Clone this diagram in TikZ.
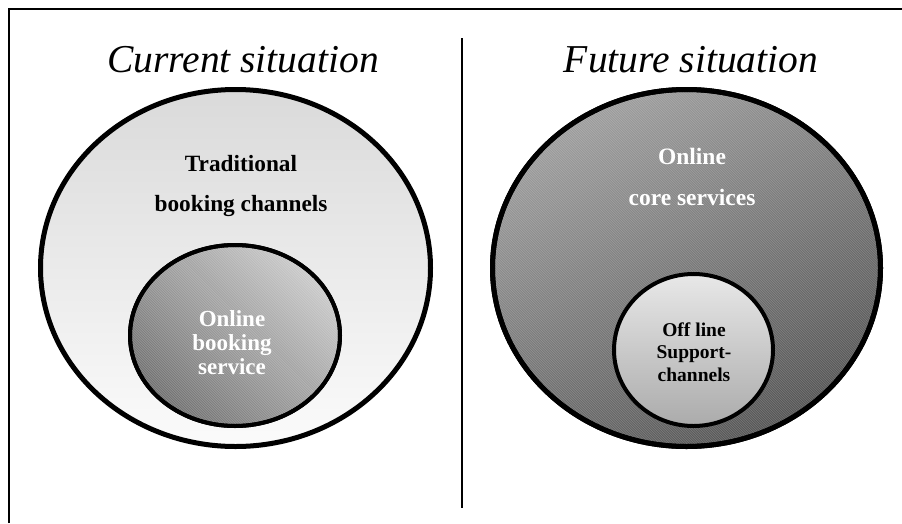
\documentclass[tikz,border=0pt]{standalone}
\usepackage{fontspec}
\setmainfont{Liberation Serif}
\usetikzlibrary{shapes.geometric}

\definecolor{palegray}{HTML}{DADADA}
\definecolor{nearwhite}{HTML}{FBFBFB}
\definecolor{midgray}{HTML}{CACACA}
\definecolor{deepgray}{HTML}{6C6C6C}
\definecolor{coregray}{HTML}{9C9C9C}
\definecolor{coredark}{HTML}{525252}
\definecolor{supplight}{HTML}{E8E8E8}
\definecolor{suppdark}{HTML}{ABABAB}

\begin{document}
\begin{tikzpicture}[
        x=1pt, y=-1pt,
        ring/.style={draw, ellipse, inner sep=0pt},
        stripe/.style={white, opacity=0.22, line width=0.7pt},
        heading/.style={font=\fontsize{39.5}{42}\selectfont\itshape, inner sep=0pt, anchor=base},
        caption/.style={font=\fontsize{#1}{#1}\selectfont\bfseries, align=center, inner sep=0pt}
      ]

      \useasboundingbox (0,0) rectangle (902,523);

      % frame and divider
      \draw[line width=2pt] (9,523) -- (9,9) -- (902,9);
      \coordinate (divtop) at (462,38);
      \coordinate (divbot) at (462,508);
      \draw[line width=1.3pt] (divtop) -- (divbot);

      % current situation
      \node[heading] (curhead) at (243,72) {Current situation};
      \node[ring, line width=5pt, minimum width=390pt, minimum height=357pt,
            top color=palegray, bottom color=nearwhite] (cur) at (235.5,268) {};
      \node[ring, line width=4pt, minimum width=210pt, minimum height=181pt,
            top color=midgray, bottom color=deepgray, shading angle=-45] (curin) at (235,335.5) {};
      \begin{scope}
        \clip (curin.center) ellipse (103 and 88.5);
        \foreach \d in {-200,-197.5,...,200}
          \draw[stripe] ([shift={(\d-100,-100)}]curin.center) -- ++(200,200);
      \end{scope}
      \draw[line width=4pt] (curin.center) ellipse (105 and 90.5);
      \node[caption=23.3, text=black] (trad) at (241,186)
          {Traditional\\[16pt] booking channels};
      \node[caption=23, text=white] (onbook) at (232,343) {Online\\[1pt] booking\\[1pt] service};

      % future situation
      \node[heading] (futhead) at (691,72) {Future situation};
      \node[ring, line width=5pt, minimum width=388pt, minimum height=357pt,
            top color=coregray, bottom color=coredark, shading angle=30] (fut) at (686.5,268) {};
      \begin{scope}
        \clip (fut.center) ellipse (191.5 and 176);
        \foreach \d in {-380,-377.5,...,380}
          \draw[stripe] ([shift={(\d-190,-190)}]fut.center) -- ++(380,380);
      \end{scope}
      \draw[line width=5pt] (fut.center) ellipse (194 and 178.5);
      \node[ring, line width=4pt, minimum width=159pt, minimum height=152pt,
            top color=supplight, bottom color=suppdark] (futin) at (693.5,350) {};
      \node[caption=23.5, text=white] (oncore) at (692,177) {Online\\[18pt] core services};
      \node[caption=19.5, text=black] (offsup) at (694,352) {Off line\\[3pt] Support-\\[3pt] channels};

\end{tikzpicture}
\end{document}
